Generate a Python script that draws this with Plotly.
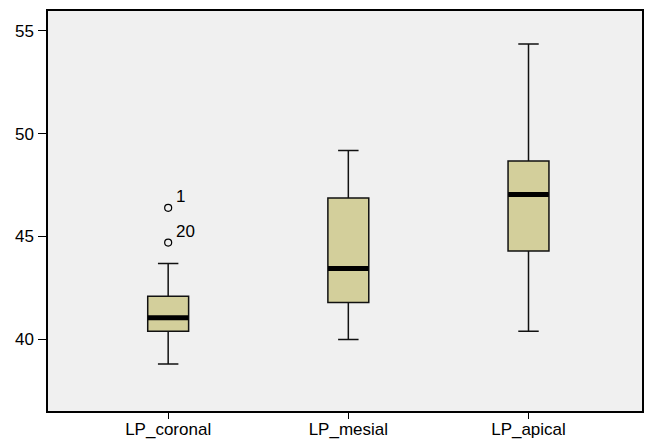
import plotly.graph_objects as go

categories = ["LP_coronal", "LP_mesial", "LP_apical"]
lower_whisker = [38.80, 39.99, 40.39]
q1 = [40.39, 41.78, 44.29]
median = [41.04, 43.44, 47.04]
q3 = [42.09, 46.87, 48.67]
upper_whisker = [43.68, 49.18, 54.36]

outlier_x = ["LP_coronal", "LP_coronal"]
outlier_y = [46.39, 44.70]
outlier_labels = ["1", "20"]

y_ticks = [40, 45, 50, 55]

FONT = "Liberation Sans, Arial, sans-serif"
BOX_FILL = "#D3CF9B"

fig = go.Figure()
fig.add_trace(go.Box(
    x=categories, q1=q1, median=median, q3=q3,
    lowerfence=lower_whisker, upperfence=upper_whisker,
    fillcolor=BOX_FILL, line=dict(color="#111111", width=1.5),
    width=0.227, whiskerwidth=0.5, boxpoints=False,
    hoverinfo="skip", showlegend=False,
))
# thick median bars
fig.add_trace(go.Scatter(
    x=categories, y=median, mode="markers",
    marker=dict(symbol="line-ew", size=29, line=dict(color="black", width=5)),
    hoverinfo="skip", showlegend=False,
))
# outliers
fig.add_trace(go.Scatter(
    x=outlier_x, y=outlier_y, mode="markers",
    marker=dict(symbol="circle-open", size=7, color="black", line=dict(width=1.2)),
    hoverinfo="skip", showlegend=False,
))
for ox, oy, lab in zip(outlier_x, outlier_y, outlier_labels):
    fig.add_annotation(x=ox, y=oy, text=lab, showarrow=False,
                       xanchor="left", yanchor="bottom", xshift=6, yshift=0,
                       font=dict(family=FONT, size=17, color="black"))

fig.update_layout(
    width=649, height=439,
    margin=dict(l=48, r=7, t=11, b=28),
    paper_bgcolor="white", plot_bgcolor="#F0F0F0",
    font=dict(family=FONT, size=17, color="black"),
    showlegend=False,
)
fig.update_xaxes(
    type="category", categoryorder="array", categoryarray=categories,
    range=[-0.667, 2.63], showgrid=False, zeroline=False, automargin=False,
    showline=True, linecolor="black", linewidth=1.5, mirror=True,
    ticks="outside", ticklen=6, tickcolor="black", ticklabelstandoff=-4,
    tickfont=dict(family=FONT, size=17),
)
fig.update_yaxes(
    range=[36.51, 55.96], tickvals=y_ticks, showgrid=False, zeroline=False,
    automargin=False,
    showline=True, linecolor="black", linewidth=1.5, mirror=True,
    ticks="outside", ticklen=8, tickcolor="black", ticklabelstandoff=1,
    tickfont=dict(family=FONT, size=17),
)

post = (
    "var h=document.documentElement, b=document.body;"
    "h.style.margin='0'; h.style.padding='0'; h.style.overflow='hidden';"
    "b.style.margin='0'; b.style.padding='0'; b.style.overflow='hidden';"
    "b.style.width='649px'; b.style.height='439px';"
)
fig.write_html("out.html", post_script=post,
               config={"displayModeBar": False, "responsive": False})
